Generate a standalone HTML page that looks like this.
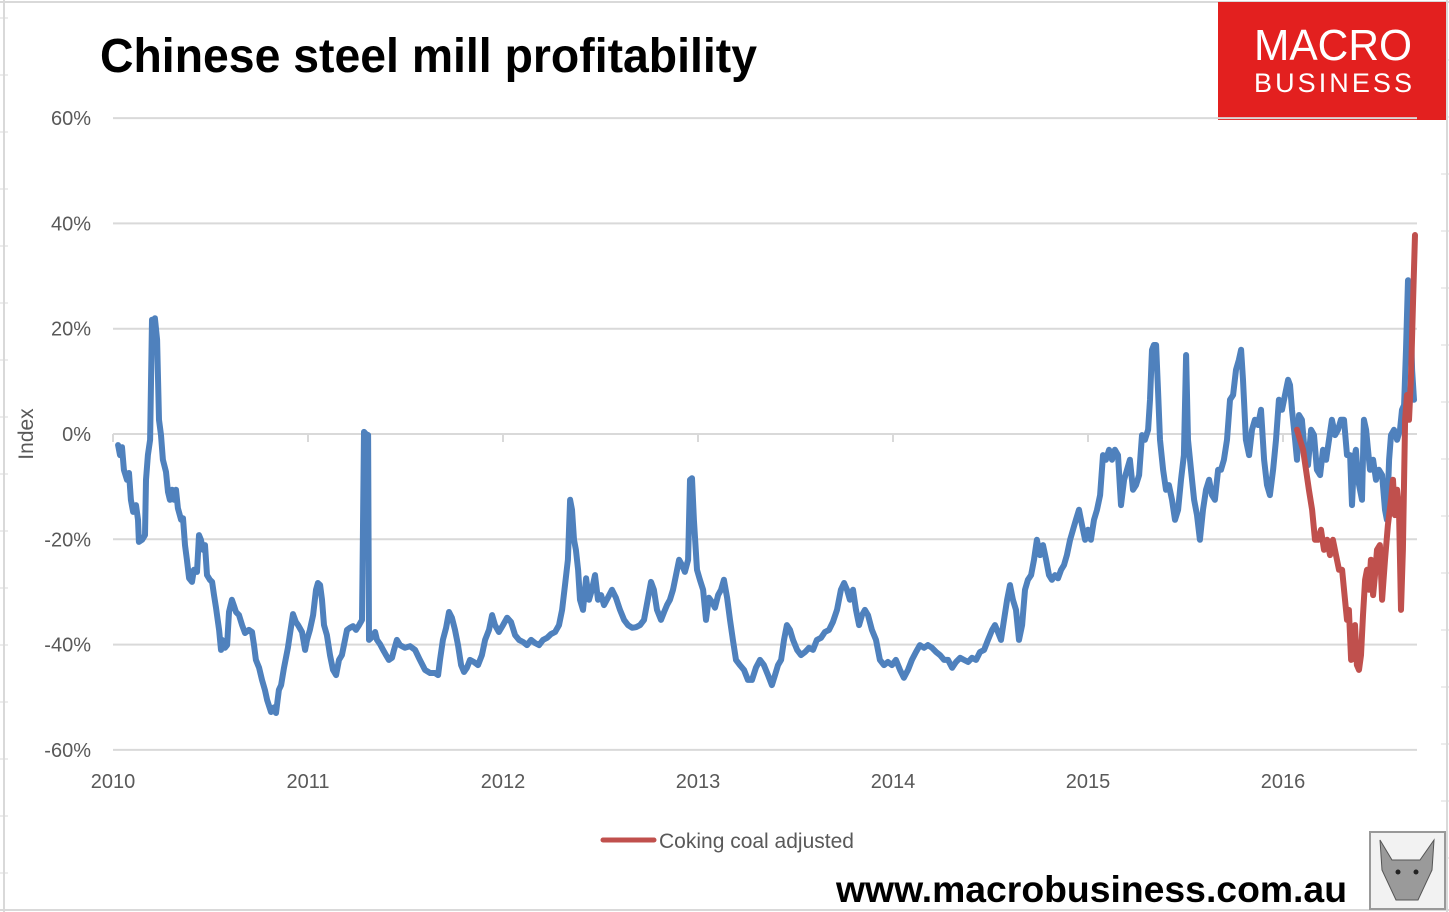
<!DOCTYPE html>
<html><head><meta charset="utf-8"><style>
html,body{margin:0;padding:0;background:#fff;}
svg{display:block;font-family:"Liberation Sans",sans-serif;}
</style></head><body>
<svg id="c" width="1449" height="912" viewBox="0 0 1449 912">
  <rect x="0" y="0" width="1449" height="912" fill="#fff"/>
  <g stroke="#d9d9d9" stroke-width="2" fill="none">
    <line x1="4" y1="0" x2="4" y2="912"/>
    <line x1="0" y1="2" x2="1449" y2="2"/>
    <line x1="0" y1="910" x2="1449" y2="910"/>
    <line x1="1447" y1="0" x2="1447" y2="912"/>
  </g>
  <g id="rowticks"></g>
  <text x="100" y="72" font-size="48" font-weight="bold" fill="#000" textLength="657" lengthAdjust="spacingAndGlyphs">Chinese steel mill profitability</text>
  <g>
    <rect x="1218" y="2" width="228" height="118" fill="#e3201f"/>
    <text x="1333" y="60" font-size="44" fill="#fff" text-anchor="middle" textLength="158" lengthAdjust="spacingAndGlyphs">MACRO</text>
    <text x="1333" y="92" font-size="27" fill="#fff" text-anchor="middle" textLength="158" lengthAdjust="spacing">BUSINESS</text>
  </g>
  <g id="grid"></g>
  <g id="yaxis"></g>
  <g id="xaxis"></g>
  <text transform="translate(33,434) rotate(-90)" text-anchor="middle" font-size="21" fill="#595959">Index</text>
  <g id="series"></g>
  <g>
    <line x1="603" y1="840" x2="654" y2="840" stroke="#c0504d" stroke-width="5" stroke-linecap="round"/>
    <text x="659" y="848" font-size="21" fill="#595959">Coking coal adjusted</text>
  </g>
  <text x="836" y="902" font-size="37" font-weight="bold" fill="#000" textLength="511" lengthAdjust="spacingAndGlyphs">www.macrobusiness.com.au</text>
  <g>
    <rect x="1370" y="832" width="75" height="77" fill="#f2f2f2" stroke="#999" stroke-width="2"/>
    <path d="M1380 840 L1392 860 L1420 860 L1434 840 L1432 870 L1418 900 L1396 900 L1382 870 Z" fill="#9a9a9a" stroke="#555" stroke-width="1"/>
    <circle cx="1398" cy="872" r="2.5" fill="#222"/><circle cx="1416" cy="872" r="2.5" fill="#222"/>
  </g>
</svg>
<script>
var yTicks = [60, 40, 20, 0, -20, -40, -60];
var xYears = [2010, 2011, 2012, 2013, 2014, 2015, 2016];
var blueT = [.026,.036,.046,.056,.072,.082,.092,.103,.118,.128,.133,.149,.164,.169,.179,.190,.200,.210,.215,.226,.236,.246,.256,.272,.282,.292,.303,.313,.323,.333,.349,.359,.369,.379,.390,.405,.415,.431,.441,.451,.462,.472,.482,.497,.508,.518,.528,.544,.554,.559,.574,.585,.595,.610,.621,.631,.646,.662,.677,.697,.713,.723,.733,.749,.764,.779,.790,.810,.826,.836,.851,.862,.877,.897,.908,.923,.938,.949,.969,.985,.995,1.010,1.026,1.041,1.051,1.062,1.072,1.082,1.097,1.113,1.128,1.144,1.159,1.174,1.190,1.200,1.215,1.231,1.246,1.262,1.277,1.287,1.297,1.308,1.313,1.328,1.344,1.354,1.369,1.385,1.400,1.415,1.431,1.441,1.456,1.472,1.497,1.523,1.549,1.574,1.600,1.626,1.651,1.667,1.677,1.692,1.708,1.723,1.738,1.754,1.769,1.785,1.800,1.815,1.831,1.851,1.872,1.892,1.908,1.928,1.944,1.959,1.979,2.000,2.021,2.041,2.062,2.082,2.103,2.123,2.144,2.164,2.185,2.205,2.226,2.246,2.267,2.287,2.303,2.318,2.333,2.344,2.354,2.364,2.374,2.385,2.395,2.410,2.426,2.441,2.456,2.472,2.487,2.503,2.518,2.538,2.559,2.579,2.600,2.621,2.641,2.662,2.682,2.703,2.723,2.744,2.759,2.774,2.790,2.810,2.826,2.841,2.856,2.872,2.887,2.903,2.918,2.933,2.949,2.959,2.969,2.979,2.995,3.010,3.026,3.041,3.056,3.072,3.087,3.103,3.118,3.133,3.149,3.164,3.179,3.195,3.215,3.236,3.256,3.277,3.297,3.318,3.338,3.359,3.379,3.395,3.410,3.426,3.441,3.456,3.472,3.487,3.508,3.528,3.549,3.569,3.590,3.610,3.631,3.651,3.672,3.692,3.713,3.733,3.749,3.764,3.779,3.795,3.810,3.826,3.841,3.856,3.872,3.892,3.913,3.933,3.954,3.974,3.995,4.015,4.036,4.056,4.077,4.097,4.118,4.138,4.159,4.179,4.200,4.221,4.241,4.262,4.282,4.303,4.323,4.344,4.364,4.385,4.405,4.426,4.446,4.467,4.487,4.508,4.523,4.538,4.554,4.569,4.585,4.600,4.615,4.631,4.646,4.662,4.677,4.692,4.708,4.723,4.738,4.754,4.769,4.785,4.800,4.815,4.831,4.846,4.862,4.877,4.892,4.908,4.923,4.938,4.954,4.969,4.985,5.000,5.015,5.031,5.046,5.062,5.077,5.092,5.108,5.123,5.138,5.154,5.169,5.185,5.200,5.215,5.231,5.246,5.262,5.277,5.292,5.308,5.318,5.328,5.338,5.349,5.359,5.369,5.385,5.400,5.415,5.431,5.446,5.462,5.477,5.492,5.503,5.513,5.528,5.544,5.559,5.574,5.590,5.605,5.621,5.636,5.651,5.667,5.682,5.697,5.713,5.728,5.744,5.759,5.774,5.785,5.795,5.810,5.826,5.841,5.856,5.872,5.887,5.903,5.918,5.933,5.949,5.964,5.979,5.995,6.010,6.026,6.036,6.046,6.062,6.072,6.082,6.097,6.113,6.128,6.144,6.159,6.174,6.190,6.205,6.221,6.236,6.251,6.267,6.282,6.297,6.313,6.328,6.344,6.354,6.364,6.374,6.385,6.395,6.405,6.415,6.426,6.436,6.446,6.462,6.477,6.492,6.508,6.523,6.533,6.544,6.554,6.569,6.585,6.600,6.610,6.621,6.631,6.641,6.651,6.662,6.672];
var blueV = [-2.1,-4.0,-2.5,-6.8,-8.7,-7.4,-12.5,-14.8,-13.5,-16.3,-20.5,-20.1,-19.2,-8.7,-4.0,-1.1,21.7,16.9,22.0,17.9,2.7,-0.2,-4.9,-7.2,-11.0,-12.5,-10.6,-12.5,-10.6,-14.1,-16.3,-16.0,-21.1,-23.9,-27.4,-28.1,-25.8,-26.2,-19.2,-20.1,-22.0,-21.1,-26.8,-27.7,-28.1,-30.6,-33.0,-37.2,-41.0,-39.1,-40.6,-40.1,-33.8,-31.5,-32.7,-33.8,-34.4,-36.3,-37.8,-37.2,-37.6,-40.1,-42.9,-44.4,-46.7,-48.6,-50.5,-52.8,-51.9,-53.0,-48.6,-47.7,-44.4,-40.6,-37.8,-34.2,-35.7,-36.3,-37.6,-41.0,-39.1,-37.2,-34.4,-29.6,-28.3,-28.7,-31.5,-36.3,-38.2,-42.0,-44.8,-45.8,-42.9,-42.0,-39.1,-37.2,-36.8,-36.5,-37.2,-36.3,-35.3,0.4,0,-0.2,-39.1,-38.6,-37.6,-39.1,-39.9,-41.0,-42.0,-42.9,-42.5,-41.0,-39.1,-40.1,-40.6,-40.3,-41.0,-42.9,-44.8,-45.4,-45.4,-45.8,-42.9,-39.1,-36.8,-33.8,-34.9,-37.2,-40.1,-43.9,-45.2,-44.4,-42.9,-43.3,-43.9,-42.0,-39.1,-37.2,-34.4,-36.3,-37.6,-36.3,-34.9,-35.7,-38.2,-39.1,-39.5,-40.1,-39.1,-39.7,-40.1,-39.1,-38.7,-38.0,-37.6,-36.3,-33.4,-28.7,-23.9,-12.5,-14.4,-20.1,-22.0,-25.8,-31.5,-33.4,-27.4,-31.5,-29.6,-26.8,-31.5,-30.6,-32.5,-31.1,-29.6,-31.1,-33.4,-35.3,-36.3,-36.8,-36.7,-36.3,-35.3,-31.1,-28.1,-29.6,-33.4,-35.3,-33.8,-32.5,-31.5,-29.6,-26.8,-23.9,-24.9,-26.2,-23.9,-8.7,-8.4,-16.3,-25.8,-27.7,-29.6,-35.3,-31.1,-31.9,-33.0,-30.6,-29.6,-27.7,-31.1,-35.3,-39.1,-42.9,-43.9,-44.8,-46.7,-46.7,-44.4,-42.9,-43.9,-45.8,-47.7,-45.8,-43.9,-42.9,-39.1,-36.3,-37.2,-39.1,-41.0,-42.0,-41.4,-40.6,-41.0,-39.1,-38.7,-37.6,-37.2,-35.7,-33.4,-29.6,-28.3,-29.6,-31.5,-29.6,-33.4,-36.3,-34.4,-33.4,-34.4,-37.2,-39.1,-42.9,-43.9,-43.3,-43.9,-42.9,-44.8,-46.3,-44.8,-42.9,-41.4,-40.1,-40.6,-40.1,-40.6,-41.4,-42.0,-42.9,-42.9,-44.4,-43.3,-42.5,-42.9,-43.3,-42.5,-42.9,-41.4,-41.0,-39.1,-37.2,-36.3,-37.6,-39.1,-35.3,-31.5,-28.7,-31.5,-33.4,-39.1,-36.3,-29.6,-27.7,-26.8,-23.9,-20.1,-23.0,-21.1,-23.9,-26.8,-27.7,-26.8,-27.4,-25.8,-24.9,-23.0,-20.1,-18.2,-16.3,-14.4,-17.3,-20.1,-18.2,-20.1,-16.3,-14.4,-11.6,-4.0,-4.9,-3.0,-4.9,-3.0,-4.0,-13.5,-8.7,-6.8,-4.9,-10.6,-9.7,-7.8,-0.2,-1.1,0.8,6.5,16.0,16.9,16.9,8.4,-1.1,-6.8,-10.6,-9.7,-12.5,-16.3,-14.4,-8.7,-4.0,15.0,-1.1,-6.8,-12.5,-15.4,-20.1,-14.4,-10.6,-8.7,-11.6,-12.5,-6.8,-6.8,-4.9,-1.1,6.5,7.4,12.2,14.1,16.0,10.3,-1.1,-4.0,0.8,2.7,1.7,4.6,-4.9,-9.7,-11.6,-6.8,-1.1,6.5,4.6,7.4,10.3,9.3,4.6,-1.1,-4.9,3.6,2.7,-4.0,-5.9,0.8,-0.2,-6.8,-7.8,-3.0,-4.9,-1.1,2.7,-0.2,0.8,2.7,2.7,-4.0,-4.0,-13.5,-4.9,-3.0,-8.7,-10.6,-12.5,2.7,0.8,-3.0,-6.8,-4.9,-8.7,-6.8,-7.8,-14.4,-16.3,-4.9,-0.2,0.8,-1.1,0.8,4.6,5.5,16.0,29.2,27.4,12.2,6.5];
var redT = [6.072,6.087,6.103,6.118,6.133,6.149,6.164,6.179,6.195,6.210,6.226,6.241,6.256,6.272,6.287,6.303,6.318,6.328,6.338,6.349,6.359,6.369,6.379,6.390,6.400,6.410,6.421,6.431,6.441,6.451,6.462,6.472,6.482,6.497,6.508,6.523,6.538,6.554,6.564,6.574,6.585,6.595,6.605,6.615,6.626,6.636,6.646,6.656,6.667,6.677];
var redV = [0.8,-1.1,-3.0,-6.8,-10.6,-14.4,-20.1,-20.1,-18.2,-22.0,-20.1,-23.0,-20.1,-23.0,-25.8,-25.8,-31.5,-35.3,-33.4,-42.9,-39.1,-36.3,-43.9,-44.8,-42.0,-34.4,-27.7,-25.8,-29.6,-23.9,-30.6,-26.8,-22.0,-21.1,-31.5,-23.9,-17.3,-12.5,-8.7,-15.4,-10.6,-14.4,-33.4,-22.0,2.7,7.4,2.7,10.3,25.5,37.8];

var NS = "http://www.w3.org/2000/svg";
function X(t){ return 113 + t * 195; }
function Y(v){ return 434 - v * 105.3 / 20; }
function mk(tag, attrs, parent){ var e = document.createElementNS(NS, tag); for (var k in attrs) e.setAttribute(k, attrs[k]); parent.appendChild(e); return e; }

var rt = document.getElementById('rowticks');
for (var ry = 18; ry < 912; ry += 57) {
  var rl = mk('line', {x1:0, y1:ry, x2:8, y2:ry, stroke:'#d9d9d9', 'stroke-width':1}, rt);
  
  
}
for (var ry2 = 60; ry2 < 912; ry2 += 57) {
  var rr = mk('line', {x1:1441, y1:ry2, x2:1449, y2:ry2, stroke:'#d9d9d9', 'stroke-width':1}, rt);
  
  
}

var grid = document.getElementById('grid'), ya = document.getElementById('yaxis'), xa = document.getElementById('xaxis');
yTicks.forEach(function(v){
  var g = mk('line', {x1:113, x2:1417, y1:Y(v), y2:Y(v), stroke:'#d9d9d9', 'stroke-width':2}, grid);
  
  
  var t = mk('text', {x:91, y:Y(v) + 7, 'text-anchor':'end', 'font-size':20, fill:'#595959'}, ya);
  t.textContent = v + '%';
  
  
});
xYears.forEach(function(yr){
  var x = X(yr - 2010);
  var tk = mk('line', {x1:x, x2:x, y1:434, y2:442, stroke:'#d9d9d9', 'stroke-width':2}, xa);
  
  
  var t = mk('text', {x:x, y:788, 'text-anchor':'middle', 'font-size':20, fill:'#595959'}, xa);
  t.textContent = yr;
  
  
});

var sg = document.getElementById('series');
function line(T, V, color, name){
  var d = T.map(function(t, i){ return (i ? 'L' : 'M') + X(t).toFixed(1) + ' ' + Y(V[i]).toFixed(1); }).join(' ');
  var p = mk('path', {d:d, fill:'none', stroke:color, 'stroke-width':6, 'stroke-linejoin':'round', 'stroke-linecap':'round'}, sg);
  
  
}
line(blueT, blueV, '#4f81bd', 'profitability-line');
line(redT, redV, '#c0504d', 'coking-coal-adjusted-line');
</script>
</body></html>
